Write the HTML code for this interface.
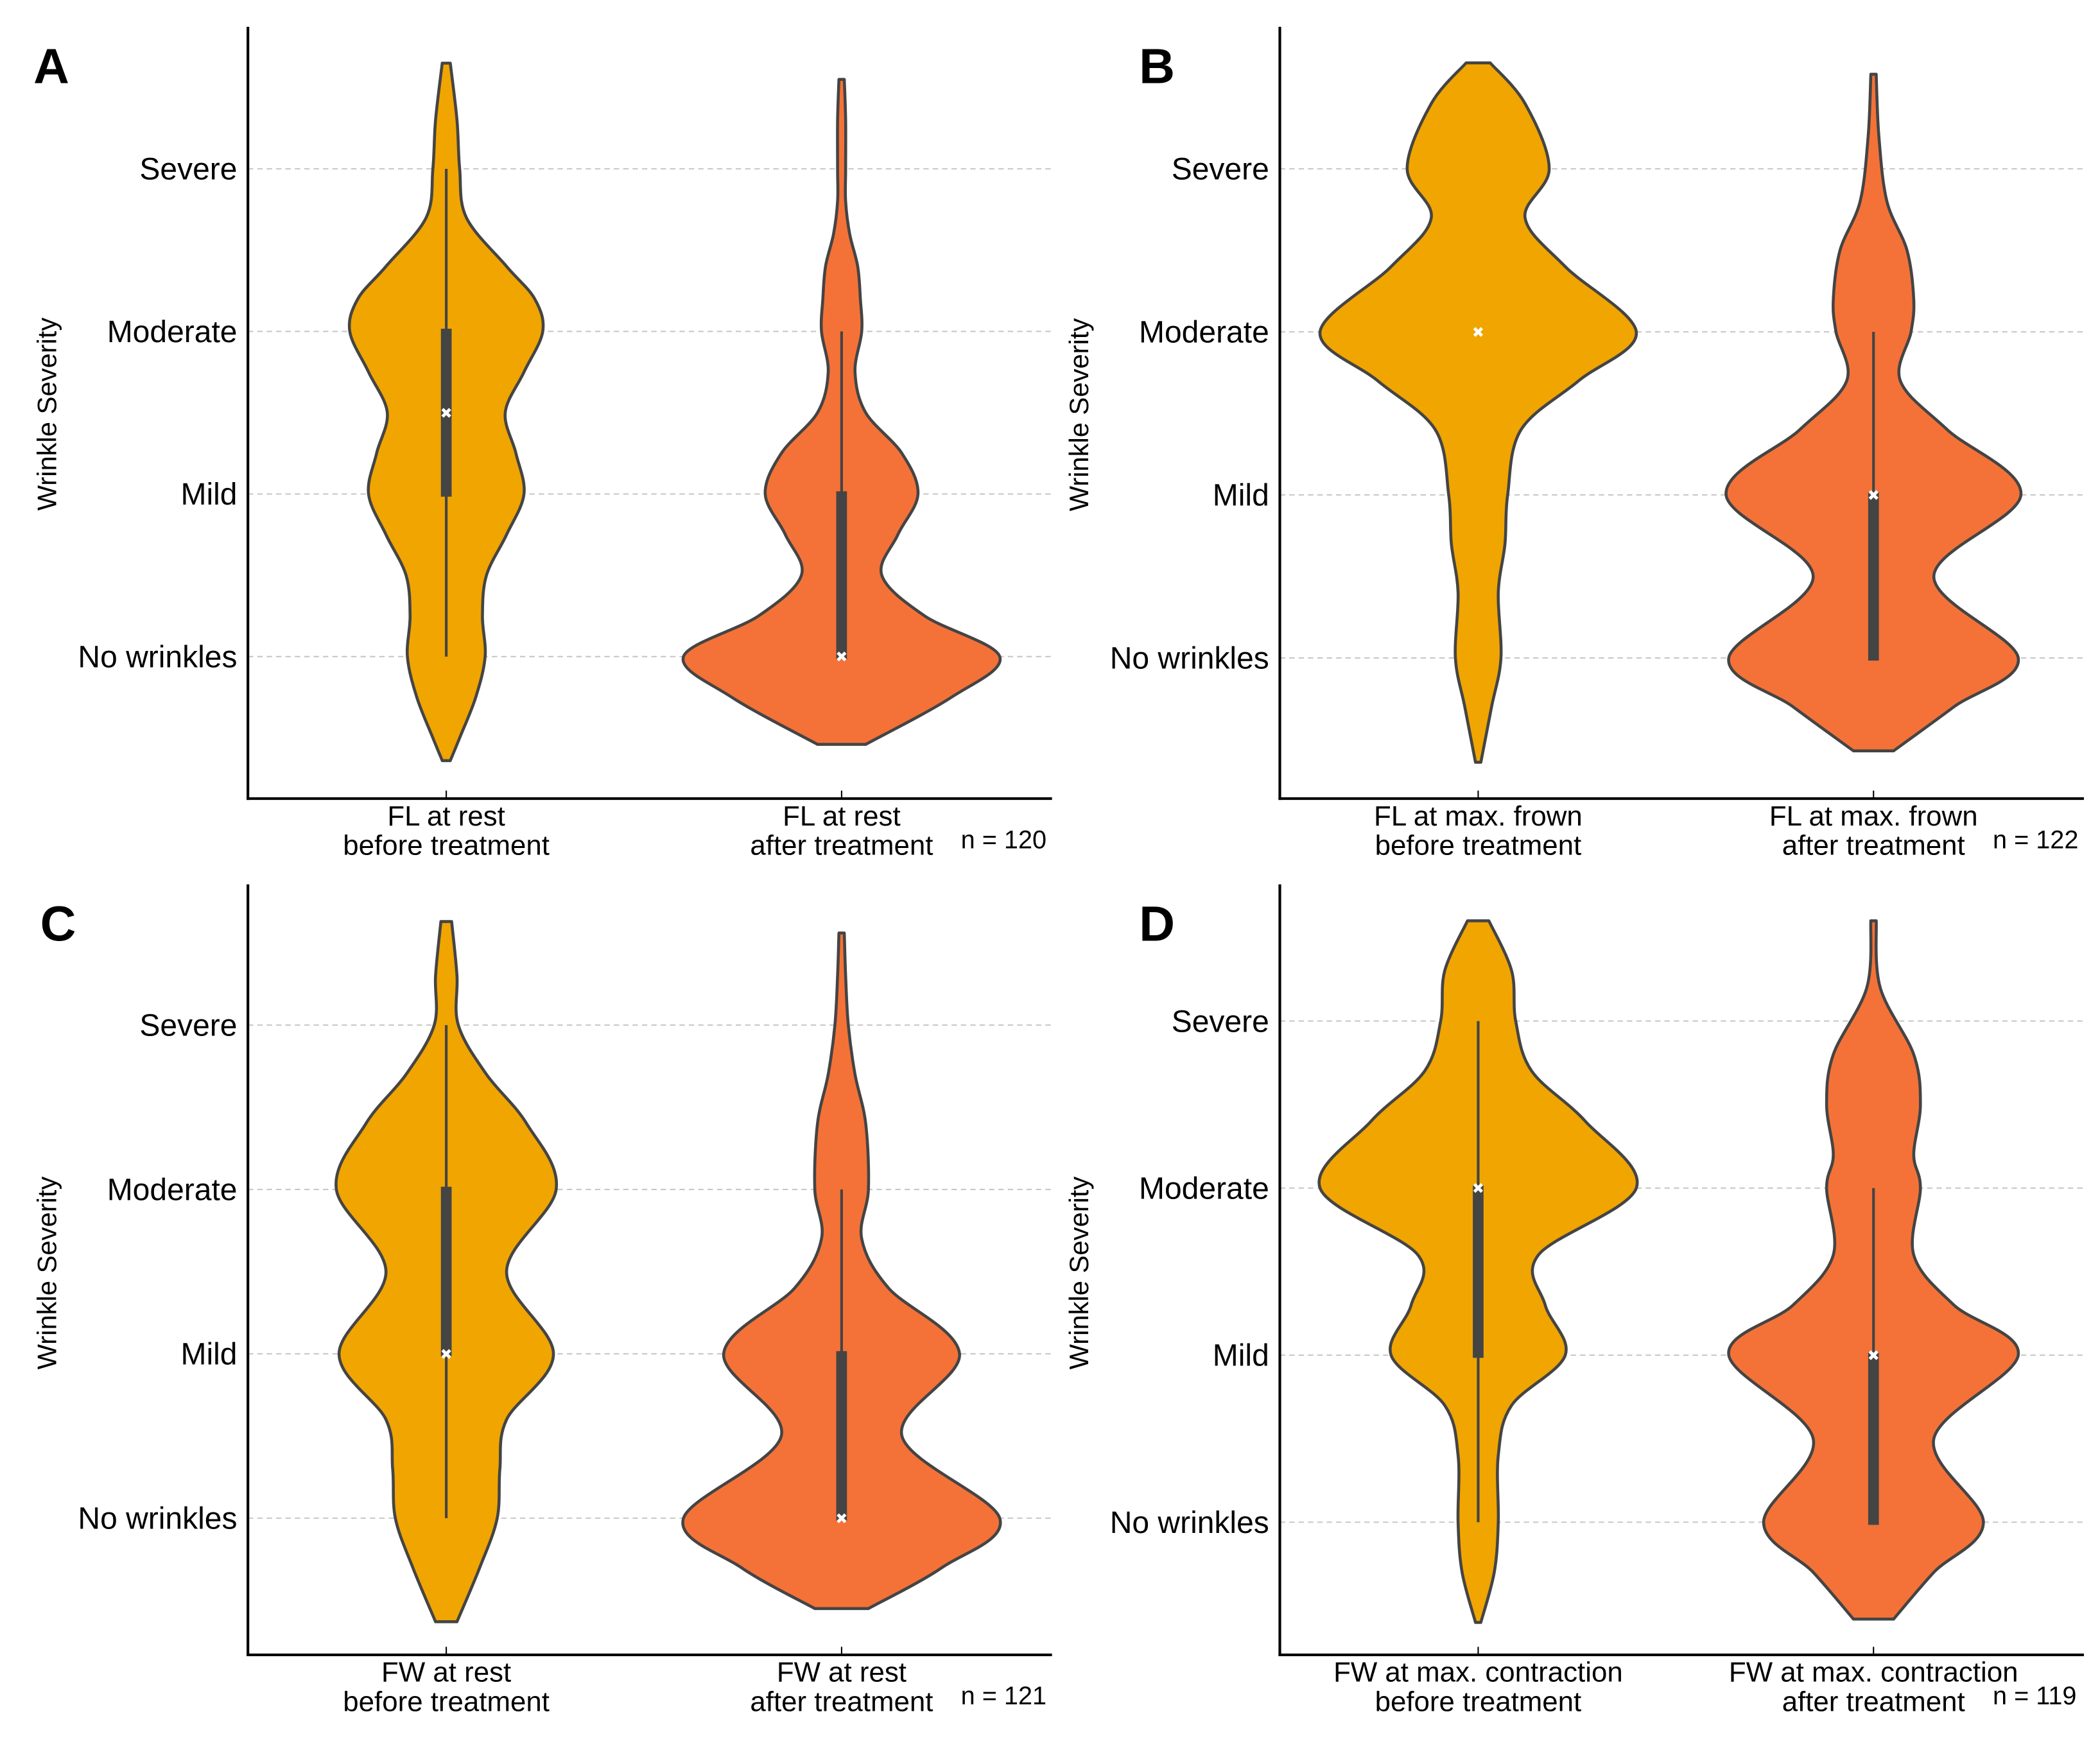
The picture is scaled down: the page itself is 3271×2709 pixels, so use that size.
<!DOCTYPE html>
<html><head><meta charset="utf-8"><style>
html,body{margin:0;padding:0;background:#fff;}
svg{display:block;}
text{font-family:"Liberation Sans","DejaVu Sans",sans-serif;}
</style></head><body>
<svg id="fig" width="3271" height="2709" viewBox="0 0 1567 1297.8" preserveAspectRatio="none" xmlns="http://www.w3.org/2000/svg"></svg>
<script>
// Severity levels: 0 = No wrinkles, 1 = Mild, 2 = Moderate, 3 = Severe
const categoryLabels = ["No wrinkles","Mild","Moderate","Severe"];
// Violin density profiles: levels (data units) and half-widths
const a1Levels = [3.65,3.3,3.0,2.7,2.4,2.2,2.0,1.75,1.5,1.25,1.0,0.75,0.5,0.25,0,-0.25,-0.5,-0.64];
const a1Widths = [3,8,10,15,45,66,72,58,44,52,58,45,30,27,29,22,10,3];
const a2Levels = [3.55,3.3,3.0,2.8,2.6,2.4,2.2,2.0,1.75,1.5,1.25,1.0,0.75,0.5,0.25,0,-0.25,-0.54];
const a2Widths = [2,3,3,3,6,12,14,15,10,18,45,57,42,30,62,118,82,18];
const b1Levels = [3.65,3.4,3.0,2.7,2.4,2.0,1.7,1.4,1.0,0.7,0.4,0,-0.3,-0.64];
const b1Widths = [9,35,53,35,65,118,75,32,22,20,15,17,10,2];
const b2Levels = [3.58,3.2,2.8,2.5,2.2,2.0,1.7,1.4,1.0,0.5,0,-0.3,-0.57];
const b2Widths = [2,4,10,25,30,28,20,55,110,45,108,60,15];
const c1Levels = [3.63,3.3,3.0,2.7,2.4,2.0,1.5,1.0,0.6,0.3,0,-0.3,-0.63];
const c1Widths = [4,8,9,30,60,82,45,80,45,40,38,25,8];
const c2Levels = [3.56,3.3,3.0,2.7,2.4,2.0,1.7,1.4,1.0,0.5,0,-0.3,-0.55];
const c2Widths = [2,3,5,10,18,20,15,35,88,45,118,75,20];
const d1Levels = [3.6,3.3,3.0,2.7,2.4,2.0,1.6,1.3,1.0,0.7,0.4,0,-0.3,-0.6];
const d1Widths = [8,25,28,40,80,118,45,50,65,25,15,15,12,2];
const d2Levels = [3.6,3.2,2.8,2.5,2.2,2.0,1.6,1.3,1.0,0.5,0,-0.3,-0.58];
const d2Widths = [2,5,30,35,30,35,30,60,108,45,82,45,15];
// Box stats: [whiskerLow, q1, median, q3, whiskerHigh]
const a1Box = [0,1,1.5,2,3];
const a2Box = [0,0,0,1,2];
const b1Box = [2,2,2,2,2];
const b2Box = [0,0,1,1,2];
const c1Box = [0,1,1,2,3];
const c2Box = [0,0,0,1,2];
const d1Box = [0,1,2,2,3];
const d2Box = [0,0,1,1,2];
const nValues = ["n = 120","n = 122","n = 121","n = 119"];
const panelLetters = ["A","B","C","D"];
const xLabels = [
 [["FL at rest","before treatment"],["FL at rest","after treatment"]],
 [["FL at max. frown","before treatment"],["FL at max. frown","after treatment"]],
 [["FW at rest","before treatment"],["FW at rest","after treatment"]],
 [["FW at max. contraction","before treatment"],["FW at max. contraction","after treatment"]]
];

const NS="http://www.w3.org/2000/svg";
const svg=document.getElementById('fig');
function mk(tag,attrs,parent){const e=document.createElementNS(NS,tag);for(const k in attrs)e.setAttribute(k,attrs[k]);(parent||svg).appendChild(e);return e;}

const panels=[
 {x0:185,x1:785,top:20,bottom:596,y0:490,y3:126,c:[333,628],lx:25,v:[[a1Levels,a1Widths,a1Box],[a2Levels,a2Widths,a2Box]]},
 {x0:955,x1:1555,top:20,bottom:596,y0:491,y3:126,c:[1103,1398],lx:850,v:[[b1Levels,b1Widths,b1Box],[b2Levels,b2Widths,b2Box]]},
 {x0:185,x1:785,top:660,bottom:1235,y0:1133,y3:765,c:[333,628],lx:30,v:[[c1Levels,c1Widths,c1Box],[c2Levels,c2Widths,c2Box]]},
 {x0:955,x1:1555,top:660,bottom:1235,y0:1136,y3:762,c:[1103,1398],lx:850,v:[[d1Levels,d1Widths,d1Box],[d2Levels,d2Widths,d2Box]]}
];
const colors=["#F0A500","#F47238"];

function smooth(pts){
 let d="M"+pts[0][0]+","+pts[0][1];
 for(let i=0;i<pts.length-1;i++){
  const p0=pts[Math.max(0,i-1)],p1=pts[i],p2=pts[i+1],p3=pts[Math.min(pts.length-1,i+2)];
  const c1=[p1[0]+(p2[0]-p0[0])/6,p1[1]+(p2[1]-p0[1])/6];
  const c2=[p2[0]-(p3[0]-p1[0])/6,p2[1]-(p3[1]-p1[1])/6];
  d+=" C"+c1[0]+","+c1[1]+" "+c2[0]+","+c2[1]+" "+p2[0]+","+p2[1];
 }
 return d;
}

panels.forEach((p,pi)=>{
 const g=mk('g',{});
 
 
 const yS=v=>p.y0+(p.y3-p.y0)*v/3;
 categoryLabels.forEach((lab,i)=>{
  const gl=mk('line',{x1:p.x0,x2:p.x1,y1:yS(i),y2:yS(i),stroke:'#c8c8c8','stroke-width':1,'stroke-dasharray':'4,3'},g);
  
  
  const t=mk('text',{x:p.x0-8,y:yS(i)+8,'text-anchor':'end','font-size':23,fill:'#000'},g);
  t.textContent=lab;
  
  
 });
 p.v.forEach((vd,vi)=>{
  const [lv,wd,bx]=vd; const cx=p.c[vi];
  const right=lv.map((l,i)=>[cx+wd[i],yS(l)]);
  const left=lv.map((l,i)=>[cx-wd[i],yS(l)]).reverse();
  let d=smooth(right)+" L"+left[0][0]+","+left[0][1]+smooth(left).replace(/^M[^C]*/,'')+" Z";
  const path=mk('path',{d:d,fill:colors[vi],stroke:'#444','stroke-width':2.2,'stroke-linejoin':'round'},g);
  
  
  const wl=mk('line',{x1:cx,x2:cx,y1:yS(bx[0]),y2:yS(bx[4]),stroke:'#444','stroke-width':2},g);
  
  
  if(bx[3]>bx[1]){
   const br=mk('rect',{x:cx-4,y:yS(bx[3])-2,width:8,height:yS(bx[1])-yS(bx[3])+4,fill:'#444'},g);
   
   
  }
  const m=mk('text',{x:cx,y:yS(bx[2])+4,'text-anchor':'middle','font-size':11,'font-weight':'bold',fill:'#fff'},g);
  m.textContent='✖';
  
  
  const tk=mk('line',{x1:cx,x2:cx,y1:p.bottom,y2:p.bottom-6,stroke:'#000','stroke-width':1},g);
  
  
  xLabels[pi][vi].forEach((s,li)=>{
   const t=mk('text',{x:cx,y:p.bottom+20+li*22,'text-anchor':'middle','font-size':21,fill:'#000'},g);
   t.textContent=s;
   
   
  });
 });
 const ya=mk('line',{x1:p.x0,x2:p.x0,y1:p.top,y2:p.bottom+1,stroke:'#000','stroke-width':2},g);
 
 
 const xa=mk('line',{x1:p.x0-1,x2:p.x1,y1:p.bottom,y2:p.bottom,stroke:'#000','stroke-width':2},g);
 
 
 const yt=mk('text',{x:0,y:0,'text-anchor':'middle','font-size':20,fill:'#000',transform:'translate('+(p.x0-143)+','+((p.y0+p.y3)/2+1)+') rotate(-90)'},g);
 yt.textContent='Wrinkle Severity';
 
 
 const L=mk('text',{x:p.lx,y:p.top+42,'font-size':37,'font-weight':'bold',fill:'#000'},g);
 L.textContent=panelLetters[pi];
 
 
 const n=mk('text',{x:p.x1-68,y:p.bottom+37,'font-size':19,fill:'#000'},g);
 n.textContent=nValues[pi];
 
 
});
</script>
</body></html>
